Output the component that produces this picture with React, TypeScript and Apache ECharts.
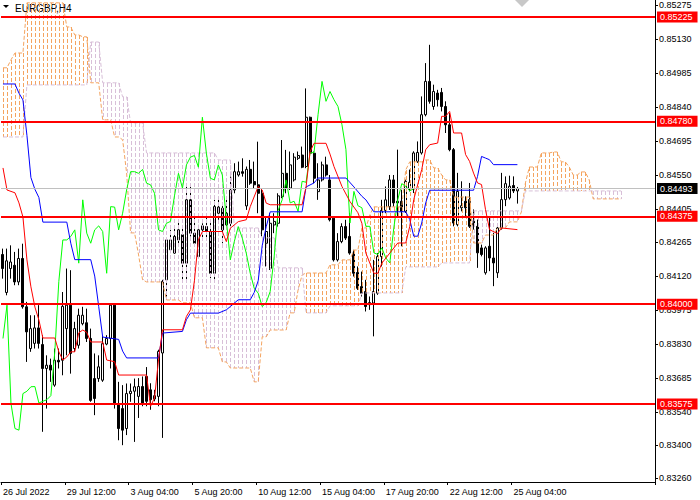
import React, { useEffect, useRef } from 'react'
import * as echarts from 'echarts'

const symbolTitle = 'EURGBP,H4'
const barCount = 164
const labelStep = 16
const timeLabels = ['26 Jul 2022', '29 Jul 12:00', '3 Aug 04:00', '5 Aug 20:00', '10 Aug 12:00', '15 Aug 04:00', '17 Aug 20:00', '22 Aug 12:00', '25 Aug 04:00']
const priceTicks = [0.8326, 0.834, 0.8354, 0.83685, 0.8383, 0.83975, 0.8412, 0.84265, 0.84405, 0.8455, 0.84695, 0.8484, 0.84985, 0.8513, 0.85275]
const levels = [0.85225, 0.8478, 0.84375, 0.84, 0.83575]
const lastPrice = 0.84493
const chikouShift = 26
const cloudLast = 155

// open, high, low, close
const ohlc = [
  [0.84212, 0.84237, 0.84109, 0.84152], [0.8405, 0.84237, 0.84038, 0.84185], [0.84152, 0.84251, 0.84109, 0.8418], [0.84166, 0.84223, 0.84081, 0.84095],
  [0.84095, 0.84237, 0.84081, 0.84195], [0.84195, 0.84258, 0.83981, 0.83989], [0.83989, 0.8401, 0.83754, 0.83882], [0.83811, 0.83953, 0.83797, 0.83896],
  [0.83833, 0.83953, 0.83811, 0.83899], [0.83899, 0.83996, 0.83811, 0.83833], [0.83828, 0.83868, 0.83456, 0.83726], [0.83726, 0.83782, 0.83555, 0.8374],
  [0.8374, 0.83768, 0.83669, 0.83719], [0.83655, 0.83811, 0.83648, 0.83761], [0.83761, 0.83811, 0.83726, 0.83754], [0.83761, 0.84052, 0.83697, 0.83991],
  [0.83896, 0.84152, 0.83782, 0.83996], [0.83996, 0.84145, 0.83704, 0.8379], [0.83811, 0.83925, 0.83797, 0.83896], [0.83825, 0.83981, 0.83811, 0.83953],
  [0.83917, 0.83989, 0.8391, 0.83953], [0.83921, 0.83981, 0.83839, 0.83854], [0.83854, 0.83896, 0.83584, 0.8359], [0.83683, 0.8379, 0.83527, 0.83598],
  [0.83683, 0.83782, 0.83669, 0.83733], [0.83676, 0.83868, 0.83669, 0.83832], [0.8383, 0.83868, 0.83825, 0.83854], [0.83854, 0.84003, 0.83726, 0.83996],
  [0.83996, 0.84003, 0.83555, 0.83577], [0.8357, 0.83669, 0.8342, 0.8347], [0.83555, 0.83655, 0.83399, 0.83463], [0.8347, 0.83662, 0.83442, 0.83619],
  [0.83619, 0.83662, 0.83584, 0.83629], [0.83629, 0.83683, 0.83413, 0.83648], [0.83607, 0.83685, 0.83515, 0.83649], [0.83649, 0.83692, 0.83565, 0.83579],
  [0.83692, 0.83732, 0.83565, 0.83586], [0.83635, 0.83663, 0.8355, 0.83593], [0.83596, 0.83635, 0.83586, 0.8361], [0.83607, 0.83806, 0.83565, 0.83799],
  [0.83792, 0.84104, 0.8343, 0.84097], [0.84104, 0.84282, 0.84033, 0.84274], [0.84232, 0.84317, 0.84218, 0.84274], [0.84218, 0.84324, 0.84215, 0.84289],
  [0.84274, 0.8436, 0.8426, 0.84317], [0.84296, 0.84331, 0.84097, 0.84175], [0.84175, 0.84516, 0.84097, 0.84445], [0.84445, 0.84502, 0.84289, 0.84303],
  [0.84303, 0.84374, 0.84253, 0.8426], [0.84203, 0.84338, 0.84196, 0.84317], [0.84317, 0.84345, 0.84274, 0.84334], [0.84331, 0.84381, 0.84274, 0.8431],
  [0.8431, 0.8436, 0.84111, 0.84132], [0.84132, 0.84445, 0.84097, 0.84416], [0.84388, 0.84445, 0.8436, 0.84414], [0.84409, 0.84424, 0.8426, 0.84317],
  [0.84338, 0.84459, 0.84331, 0.84388], [0.84345, 0.84544, 0.84317, 0.84487], [0.84487, 0.84601, 0.84473, 0.84565], [0.84551, 0.84608, 0.84544, 0.84565],
  [0.84565, 0.84622, 0.84544, 0.84558], [0.84419, 0.84587, 0.84402, 0.84575], [0.84575, 0.84615, 0.84509, 0.84516], [0.84523, 0.84608, 0.84495, 0.84509],
  [0.84509, 0.84693, 0.84388, 0.84473], [0.84473, 0.84495, 0.84289, 0.84317], [0.8426, 0.84374, 0.84161, 0.8431], [0.84153, 0.84388, 0.84146, 0.84345],
  [0.84338, 0.84388, 0.84303, 0.84353], [0.84345, 0.84473, 0.84331, 0.84462], [0.84459, 0.847, 0.84452, 0.84558], [0.84558, 0.84658, 0.84473, 0.84495],
  [0.84495, 0.84651, 0.84487, 0.84594], [0.8453, 0.84644, 0.84523, 0.84627], [0.84622, 0.84651, 0.84615, 0.84634], [0.84636, 0.84672, 0.8458, 0.84584],
  [0.84587, 0.8492, 0.8458, 0.84797], [0.84797, 0.848, 0.84629, 0.84644], [0.84644, 0.84651, 0.84516, 0.84537], [0.8448, 0.84601, 0.84445, 0.8453],
  [0.8453, 0.84608, 0.84523, 0.84594], [0.84594, 0.84629, 0.84544, 0.84551], [0.8453, 0.84551, 0.84353, 0.8436], [0.84367, 0.84374, 0.84182, 0.84189],
  [0.84189, 0.84303, 0.84182, 0.84267], [0.84267, 0.84345, 0.8426, 0.84331], [0.84331, 0.8436, 0.84274, 0.84282], [0.84289, 0.84388, 0.84211, 0.84218],
  [0.84218, 0.84232, 0.84118, 0.84132], [0.84135, 0.84161, 0.84061, 0.84068], [0.84075, 0.84139, 0.84033, 0.84047], [0.84054, 0.84104, 0.83969, 0.8399],
  [0.83998, 0.84033, 0.83976, 0.84007], [0.84005, 0.84189, 0.83863, 0.84054], [0.84047, 0.84218, 0.8404, 0.84203], [0.84203, 0.84445, 0.84161, 0.844],
  [0.844, 0.84502, 0.84388, 0.84445], [0.84416, 0.84551, 0.84402, 0.8453], [0.8453, 0.84551, 0.84416, 0.84432], [0.84432, 0.84659, 0.84375, 0.84439],
  [0.84439, 0.84488, 0.84247, 0.84396], [0.84396, 0.84531, 0.84389, 0.84524], [0.84489, 0.84574, 0.84481, 0.8452], [0.84489, 0.84652, 0.84474, 0.84645],
  [0.84609, 0.84694, 0.84602, 0.84647], [0.84645, 0.84886, 0.84638, 0.84808], [0.84808, 0.85028, 0.84801, 0.8495], [0.8495, 0.85106, 0.84855, 0.84865],
  [0.84843, 0.84936, 0.84829, 0.84907], [0.849, 0.84914, 0.84843, 0.84872], [0.84903, 0.84922, 0.84822, 0.84843], [0.84843, 0.84865, 0.8473, 0.84765],
  [0.84765, 0.84815, 0.84652, 0.84659], [0.84659, 0.84666, 0.84332, 0.84346], [0.84339, 0.8456, 0.84332, 0.84481], [0.84411, 0.84524, 0.84396, 0.8442],
  [0.84439, 0.8446, 0.84375, 0.84411], [0.84446, 0.84517, 0.84325, 0.84332], [0.84354, 0.84404, 0.84318, 0.84332], [0.84332, 0.84361, 0.84155, 0.84219],
  [0.8424, 0.84254, 0.84204, 0.84212], [0.84134, 0.84247, 0.84126, 0.8424], [0.84247, 0.84375, 0.84141, 0.84197], [0.84197, 0.84304, 0.84077, 0.84176],
  [0.84134, 0.84332, 0.84112, 0.84325], [0.84325, 0.8456, 0.84318, 0.84446], [0.84446, 0.84545, 0.84418, 0.84514], [0.84453, 0.84548, 0.84446, 0.84503],
  [0.84506, 0.84545, 0.84474, 0.84483], [0.84483, 0.845, 0.84429, 0.84493],
]

// [bar, price] vertices
const tenkan = [
  [0, 0.84581], [1, 0.84487], [3, 0.84475], [4, 0.84432], [5, 0.84372], [6, 0.84189], [7, 0.84074], [8, 0.83988], [9, 0.83933], [10, 0.83856],
  [13, 0.83856], [14, 0.83797], [15, 0.83762], [16, 0.83775], [17, 0.83797], [18, 0.83797], [19, 0.83878], [20, 0.8389], [21, 0.8388], [22, 0.83839],
  [25, 0.83839], [26, 0.83762], [28, 0.83755], [29, 0.83698], [36, 0.83698], [37, 0.83565], [38, 0.836], [39, 0.83763], [40, 0.83891], [45, 0.83891],
  [46, 0.83948], [47, 0.83976], [48, 0.841], [49, 0.84274], [50, 0.8431], [55, 0.8431], [56, 0.84267], [57, 0.84324], [59, 0.84352], [61, 0.8436],
  [62, 0.84416], [64, 0.84502], [65, 0.84487], [66, 0.84431], [67, 0.84424], [75, 0.84424], [76, 0.845], [77, 0.8465], [78, 0.84686], [81, 0.84686],
  [82, 0.8464], [83, 0.84587], [85, 0.84502], [87, 0.84438], [89, 0.8439], [90, 0.84345], [91, 0.84218], [93, 0.84132], [94, 0.84132], [95, 0.84175],
  [97, 0.84218], [99, 0.84261], [101, 0.84261], [102, 0.84332], [103, 0.84446], [105, 0.84574], [106, 0.84659], [107, 0.8468], [109, 0.84687], [110, 0.84801],
  [111, 0.84801], [112, 0.84822], [113, 0.8473], [115, 0.8473], [116, 0.84638], [117, 0.84609], [118, 0.84559], [119, 0.84517], [120, 0.8451], [121, 0.84403],
  [122, 0.84318], [124, 0.84301], [125, 0.84325], [129, 0.84318],
]
const kijun = [
  [0, 0.84939], [3, 0.84939], [4, 0.849], [5, 0.84871], [6, 0.8472], [7, 0.8454], [8, 0.8449], [9, 0.84455], [10, 0.8435], [16, 0.8435],
  [17, 0.8426], [18, 0.8419], [22, 0.8419], [23, 0.8412], [24, 0.8399], [25, 0.8386], [29, 0.8385], [30, 0.838], [31, 0.83771], [39, 0.83771],
  [40, 0.83877], [45, 0.83884], [46, 0.83934], [47, 0.83962], [54, 0.83962], [56, 0.83976], [57, 0.8399], [59, 0.84019], [62, 0.84019], [63, 0.8405],
  [64, 0.841], [65, 0.8425], [66, 0.8433], [67, 0.84394], [75, 0.84394], [76, 0.845], [78, 0.84517], [79, 0.84538], [86, 0.84538], [88, 0.845],
  [90, 0.8446], [91, 0.84445], [93, 0.84394], [101, 0.84394], [102, 0.84361], [103, 0.8429], [104, 0.8429], [105, 0.84346], [106, 0.84432], [107, 0.84486],
  [118, 0.84486], [119, 0.84545], [120, 0.8463], [121, 0.84623], [122, 0.84616], [123, 0.84595], [129, 0.84595],
]

// Senkou spans as flat runs: [first bar, price]
const spanASteps = [
  [0, 0.85008], [2, 0.85042], [3, 0.85071], [6, 0.85285], [16, 0.85182], [18, 0.85148], [20, 0.8514], [22, 0.84944], [25, 0.84786], [28, 0.84713],
  [30, 0.84701], [31, 0.8456], [32, 0.84304], [34, 0.8421], [35, 0.84104], [36, 0.84095], [41, 0.84018], [45, 0.84006], [48, 0.83942], [51, 0.83814],
  [55, 0.83754], [57, 0.83728], [63, 0.83669], [65, 0.83861], [67, 0.8389], [72, 0.83963], [74, 0.84061], [75, 0.84125], [76, 0.84133], [82, 0.84168],
  [85, 0.84189], [88, 0.84231], [90, 0.84325], [92, 0.84381], [93, 0.84415], [101, 0.84573], [102, 0.84607], [106, 0.84615], [108, 0.84581], [110, 0.84551],
  [111, 0.8453], [113, 0.84457], [118, 0.84261], [121, 0.84295], [124, 0.84325], [127, 0.84351], [130, 0.84394], [131, 0.84517], [132, 0.84585], [135, 0.84645],
  [138, 0.84649], [140, 0.84607], [142, 0.84585], [143, 0.84551], [145, 0.84564], [147, 0.8453], [148, 0.84449],
]
const spanBSteps = [
  [0, 0.84713], [6, 0.84935], [22, 0.85118], [25, 0.84944], [30, 0.84884], [32, 0.84773], [36, 0.84645], [54, 0.84615], [58, 0.84325], [65, 0.84283],
  [69, 0.84155], [76, 0.83963], [82, 0.83993], [90, 0.84048], [101, 0.84159], [110, 0.84176], [118, 0.84398], [131, 0.84483],
]

const fontFamily = '"Liberation Sans", Arial, sans-serif'
const sandy = '#F4A460'
const thistle = '#D8BFD8'

const runsToBars = (steps: number[][], last: number) => {
  const out: number[] = []
  steps.forEach(([from, v], k) => {
    const to = k + 1 < steps.length ? steps[k + 1][0] - 1 : last
    for (let i = from; i <= to; i++) out.push(v)
  })
  return out
}

const isLabelBar = (idx: number) => idx % labelStep === 0 && idx / labelStep < timeLabels.length

// dotted column per bar between the two spans, built from 1px dash rects
const cloudSeries = (rows: number[][], color: string) => ({
  type: 'custom',
  z: 3,
  silent: true,
  data: rows,
  encode: { x: 0, y: [1, 2] },
  renderItem: (_p: any, api: any) => {
    const i = api.value(0)
    const pa = api.coord([i, api.value(1)])
    const pb = api.coord([i, api.value(2)])
    const x = Math.round(pa[0])
    const top = Math.round(Math.min(pa[1], pb[1]))
    const bottom = Math.round(Math.max(pa[1], pb[1]))
    const children: any[] = []
    for (let y = top; y < bottom; y += 6) {
      children.push({
        type: 'rect',
        shape: { x, y, width: 1, height: Math.min(4, bottom - y) },
        style: { fill: color },
      })
    }
    return { type: 'group', children }
  },
})

const App: React.FC = () => {
  const chartRef = useRef<HTMLDivElement>(null)

  useEffect(() => {
    if (!chartRef.current) return
    const chart = echarts.init(chartRef.current, undefined, { renderer: 'svg' })

    const categories = Array.from({ length: barCount }, (_, i) => String(i))
    const spanA = runsToBars(spanASteps, cloudLast)
    const spanB = runsToBars(spanBSteps, cloudLast)
    const chikou = ohlc.slice(chikouShift).map(r => r[3])
    const rows = spanA.map((a, i) => [i, a, spanB[i]])
    const upRows = rows.filter(r => r[1] >= r[2])
    const downRows = rows.filter(r => r[1] < r[2])

    const option = {
      animation: false,
      backgroundColor: '#ffffff',
      grid: { left: 0, right: 45, top: 0, bottom: 18 },
      xAxis: {
        type: 'category',
        data: categories,
        boundaryGap: true,
        axisLine: { lineStyle: { color: '#000', width: 1 } },
        axisTick: { show: true, interval: (i: number) => isLabelBar(i), length: 3, lineStyle: { color: '#000' } },
        axisLabel: {
          interval: (i: number) => isLabelBar(i),
          formatter: (_v: string, i: number) => timeLabels[i / labelStep],
          align: 'left',
          color: '#000',
          fontSize: 9,
          fontFamily,
          margin: 5,
        },
        splitLine: { show: false },
      },
      yAxis: {
        type: 'value',
        position: 'right',
        min: 0.83242,
        max: 0.85297,
        axisLine: { show: true, lineStyle: { color: '#000', width: 1 } },
        axisTick: { show: true, customValues: priceTicks, length: 3, lineStyle: { color: '#000' } },
        axisLabel: {
          customValues: priceTicks,
          formatter: (v: number) => v.toFixed(5),
          color: '#000',
          fontSize: 9,
          fontFamily,
          margin: 4,
        },
        splitLine: { show: false },
      },
      graphic: [
        { type: 'polygon', shape: { points: [[3, 5], [9, 5], [6, 8]] }, style: { fill: '#000' } },
        { type: 'text', left: 15, top: 3, style: { text: symbolTitle, fontSize: 10, fontFamily, fill: '#000' } },
        { type: 'polygon', shape: { points: [[515, 0], [529, 0], [522, 7]] }, style: { fill: '#c8c8c8' } },
      ],
      series: [
        {
          type: 'candlestick',
          z: 2,
          barWidth: 2.5,
          data: ohlc.map(([o, h, l, c]) => [o, c, l, h]),
          itemStyle: { color: '#ffffff', color0: '#000000', borderColor: '#000000', borderColor0: '#000000', borderWidth: 1 },
        },
        cloudSeries(upRows, sandy),
        cloudSeries(downRows, thistle),
        {
          type: 'line', z: 3, symbol: 'none', silent: true, data: spanA,
          lineStyle: { color: sandy, width: 1, type: [4, 2] },
        },
        {
          type: 'line', z: 3, symbol: 'none', silent: true, data: spanB,
          lineStyle: { color: thistle, width: 1, type: [4, 2] },
        },
        {
          type: 'line', z: 4, symbol: 'none', silent: true, data: chikou,
          lineStyle: { color: '#00FF00', width: 1 },
        },
        {
          type: 'line', z: 4, symbol: 'none', silent: true, data: kijun,
          lineStyle: { color: '#0000FF', width: 1 },
        },
        {
          type: 'line', z: 4, symbol: 'none', silent: true, data: tenkan,
          lineStyle: { color: '#FF0000', width: 1 },
        },
        {
          type: 'line',
          z: 6,
          data: [],
          markLine: {
            silent: true,
            symbol: ['none', 'none'],
            precision: 5,
            lineStyle: { color: '#FF0000', width: 2, type: 'solid' },
            label: {
              show: true,
              position: 'end',
              distance: 2,
              formatter: (p: any) => Number(p.value).toFixed(5),
              color: '#ffffff',
              backgroundColor: '#FF0000',
              padding: [1, 5, 0, 3],
              lineHeight: 10,
              fontSize: 9,
              fontFamily,
            },
            data: [
              ...levels.map(v => ({ yAxis: v })),
              {
                yAxis: lastPrice,
                lineStyle: { color: '#C0C0C0', width: 1, type: 'solid' },
                label: { backgroundColor: '#000000' },
              },
            ],
          },
        },
      ],
    }

    chart.setOption(option as any)

    return () => {
      chart.dispose()
    }
  }, [])

  return <div ref={chartRef} style={{ position: 'fixed', left: 0, top: 0, width: '700px', height: '500px' }} />
}

export default App
